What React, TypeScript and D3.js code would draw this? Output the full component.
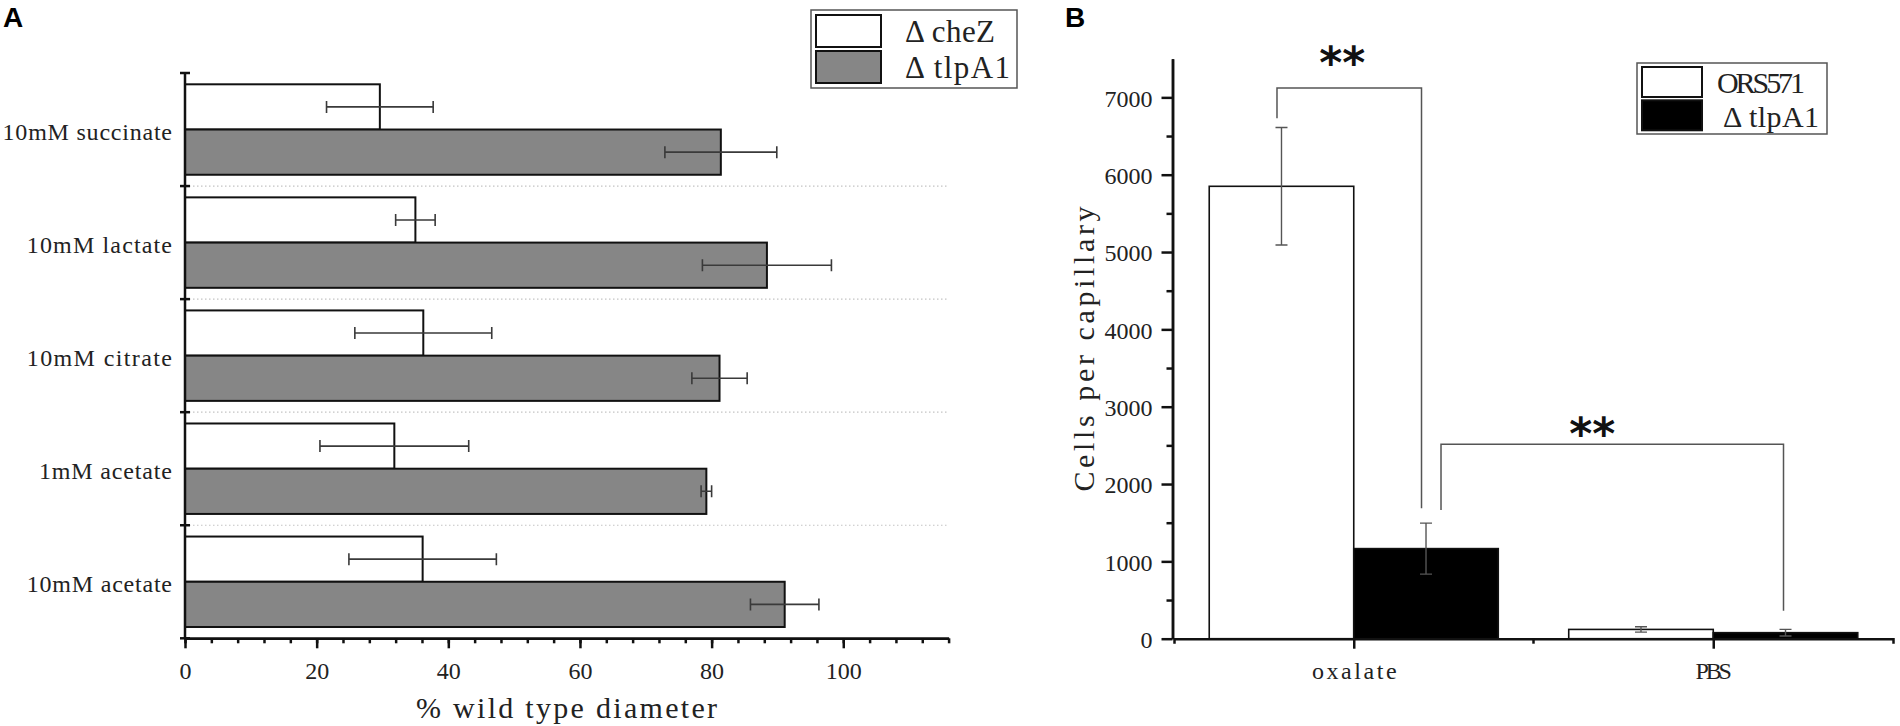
import * as d3 from 'd3';
import { useEffect, useRef } from 'react';

// ---- panel A: swarm diameter (% wild type) ----
const categoriesA = ['10mM succinate', '10mM lactate', '10mM citrate', '1mM acetate', '10mM acetate'];
const seriesA = ['Δ cheZ', 'Δ tlpA1'];
const cheZMean = [29.6, 35.0, 36.2, 31.8, 36.1];
const cheZErr = [8.1, 3.0, 10.4, 11.3, 11.2];
const tlpA1Mean = [81.4, 88.4, 81.2, 79.2, 91.1];
const tlpA1Err = [8.5, 9.8, 4.2, 0.8, 5.2];
const xTicksA = [0, 20, 40, 60, 80, 100];

// ---- panel B: capillary assay ----
const groupsB = ['oxalate', 'PBS'];
const seriesB = ['ORS571', 'Δ tlpA1'];
const ors571Mean = [5850, 120];
const ors571Err = [760, 35];
const tlpA1BMean = [1165, 78];
const tlpA1BErr = [330, 43];
const yTicksB = [0, 1000, 2000, 3000, 4000, 5000, 6000, 7000];

// significance brackets: [group, series] of each leg, leg bottoms, bracket top, star height
const bracketFrom = [['oxalate', 'ORS571'], ['oxalate', 'Δ tlpA1']];
const bracketTo = [['oxalate', 'Δ tlpA1'], ['PBS', 'Δ tlpA1']];
const bracketLegs = [[6730, 1686], [1664, 362]];
const bracketTop = [7120, 2513];
const starLevel = [7580, 2780];
const starLabels = ['**', '**'];

const serif = '"Liberation Serif", "Times New Roman", serif';

const App = () => {
  const ref = useRef<SVGSVGElement | null>(null);

  useEffect(() => {
    const width = 1900;
    const height = 726;
    const svg = d3.select(ref.current).attr('width', width).attr('height', height);
    svg.selectAll('*').remove();
    svg.append('rect').attr('width', width).attr('height', height).attr('fill', '#fff');

    // panel letters
    svg.append('text').attr('x', 3).attr('y', 27).text('A')
      .attr('font-family', '"Liberation Sans", Arial, sans-serif').attr('font-weight', 'bold').attr('font-size', 28);
    svg.append('text').attr('x', 1065).attr('y', 27).text('B')
      .attr('font-family', '"Liberation Sans", Arial, sans-serif').attr('font-weight', 'bold').attr('font-size', 28);

    // =================== panel A ===================
    const xA = d3.scaleLinear().domain([0, 116]).range([185, 948.6]);
    const yA = d3.scaleBand<string>().domain(categoriesA).range([73, 638.3]);
    const sub = d3.scaleBand<string>().domain(seriesA).range([0, yA.bandwidth()]).paddingOuter(0.25);
    const gA = svg.append('g');

    // dotted separators between categories
    gA.selectAll('line.sep').data(categoriesA.slice(1)).join('line')
      .attr('x1', xA(0)).attr('x2', xA(116))
      .attr('y1', (d) => yA(d)!).attr('y2', (d) => yA(d)!)
      .attr('stroke', '#c4c4c4').attr('stroke-width', 1.2).attr('stroke-dasharray', '1.5,2.5');

    const rowsA = categoriesA.flatMap((c, i) => [
      { cat: c, s: seriesA[0], v: cheZMean[i], e: cheZErr[i] },
      { cat: c, s: seriesA[1], v: tlpA1Mean[i], e: tlpA1Err[i] },
    ]);
    const cy = (d: { cat: string; s: string }) => yA(d.cat)! + sub(d.s)! + sub.bandwidth() / 2;

    gA.selectAll('rect.bar').data(rowsA).join('rect')
      .attr('x', xA(0)).attr('y', (d) => yA(d.cat)! + sub(d.s)!)
      .attr('width', (d) => xA(d.v) - xA(0)).attr('height', sub.bandwidth())
      .attr('fill', (d) => (d.s === seriesA[0] ? '#fff' : '#868686'))
      .attr('stroke', '#111').attr('stroke-width', 2);

    // error bars
    gA.selectAll('path.err').data(rowsA).join('path')
      .attr('d', (d) => {
        const y = cy(d);
        const a = xA(d.v - d.e);
        const b = xA(d.v + d.e);
        return `M${a},${y}H${b}M${a},${y - 6}V${y + 6}M${b},${y - 6}V${y + 6}`;
      })
      .attr('fill', 'none').attr('stroke', '#3a3a3a').attr('stroke-width', 1.6);

    // y axis with crossing ticks at category boundaries
    const bounds = [...categoriesA.map((c) => yA(c)!), yA.range()[1]];
    gA.append('line').attr('x1', xA(0)).attr('x2', xA(0)).attr('y1', bounds[0]).attr('y2', bounds[bounds.length - 1])
      .attr('stroke', '#111').attr('stroke-width', 2.5);
    gA.selectAll('line.yt').data(bounds).join('line')
      .attr('x1', xA(0) - 5).attr('x2', xA(0) + 5).attr('y1', (d) => d).attr('y2', (d) => d)
      .attr('stroke', '#111').attr('stroke-width', 2.5);
    gA.selectAll('text.cat').data(categoriesA).join('text')
      .attr('x', 172).attr('y', (d) => yA(d)! + yA.bandwidth() / 2 + 10)
      .attr('text-anchor', 'end').attr('font-family', serif).attr('font-size', 24).attr('fill', '#222')
      .attr('textLength', (d) => d.length * 12.1).attr('lengthAdjust', 'spacing')
      .text((d) => d);

    // x axis
    const axA = gA.append('g').attr('transform', `translate(0,${yA.range()[1]})`)
      .call(d3.axisBottom(xA).tickValues(xTicksA).tickSize(10).tickSizeOuter(0).tickPadding(13.5));
    axA.append('g').call(d3.axisBottom(xA).tickValues(d3.range(0, 117, 4)).tickSize(5).tickSizeOuter(0).tickFormat(() => ''));
    axA.selectAll('path.domain').attr('stroke', '#111').attr('stroke-width', 2.5);
    axA.selectAll('line').attr('stroke', '#111').attr('stroke-width', 2.5);
    axA.selectAll('text').attr('font-family', serif).attr('font-size', 24).attr('fill', '#222');
    gA.append('text').attr('x', 566.5).attr('y', 718).attr('text-anchor', 'middle')
      .attr('font-family', serif).attr('font-size', 30).attr('fill', '#222')
      .attr('textLength', 301).attr('lengthAdjust', 'spacing').text('% wild type diameter');

    // legend A
    const legA = gA.append('g');
    legA.append('rect').attr('x', 811).attr('y', 10).attr('width', 206).attr('height', 78)
      .attr('fill', '#fff').attr('stroke', '#555').attr('stroke-width', 1.5);
    legA.selectAll('rect.sw').data(seriesA).join('rect')
      .attr('x', 816).attr('y', (_, i) => 15 + i * 36).attr('width', 65).attr('height', 32)
      .attr('fill', (_, i) => (i === 0 ? '#fff' : '#868686')).attr('stroke', '#111').attr('stroke-width', 2);
    legA.selectAll('text.lg').data(seriesA).join('text')
      .attr('x', 905).attr('y', (_, i) => 42 + i * 35.5)
      .attr('font-family', serif).attr('font-size', 31).attr('fill', '#222')
      .attr('textLength', (_, i) => (i === 0 ? 90 : 105)).attr('lengthAdjust', 'spacing')
      .text((d) => d);

    // =================== panel B ===================
    const xB = d3.scalePoint<string>().domain(groupsB).range([1174, 1893]).padding(0.5);
    const barW = xB.step() * 0.402;
    const subB = d3.scaleBand<string>().domain(seriesB).range([-barW, barW]);
    const yB = d3.scaleLinear().domain([0, 7500]).range([638.7, 58.7]);
    const gB = svg.append('g');

    const rowsB = groupsB.flatMap((g, i) => [
      { g, s: seriesB[0], v: ors571Mean[i], e: ors571Err[i] },
      { g, s: seriesB[1], v: tlpA1BMean[i], e: tlpA1BErr[i] },
    ]);
    const cx = (g: string, s: string) => xB(g)! + subB(s)! + subB.bandwidth() / 2;

    gB.selectAll('rect.bar').data(rowsB).join('rect')
      .attr('x', (d) => xB(d.g)! + subB(d.s)!).attr('y', (d) => yB(d.v))
      .attr('width', subB.bandwidth()).attr('height', (d) => yB(0) - yB(d.v))
      .attr('fill', (d) => (d.s === seriesB[0] ? '#fff' : '#000'))
      .attr('stroke', '#111').attr('stroke-width', 1.6);

    gB.selectAll('path.err').data(rowsB).join('path')
      .attr('d', (d) => {
        const x = cx(d.g, d.s);
        const a = yB(d.v - d.e);
        const b = yB(d.v + d.e);
        return `M${x},${a}V${b}M${x - 6},${a}H${x + 6}M${x - 6},${b}H${x + 6}`;
      })
      .attr('fill', 'none').attr('stroke', '#555').attr('stroke-width', 1.4);

    // y axis
    const ayB = gB.append('g').attr('transform', `translate(${1172.5},0)`)
      .call(d3.axisLeft(yB).tickValues(yTicksB).tickSize(11).tickSizeOuter(0).tickPadding(9).tickFormat(d3.format('d')));
    ayB.append('g').call(d3.axisLeft(yB).tickValues(d3.range(500, 7500, 1000)).tickSize(6).tickSizeOuter(0).tickFormat(() => ''));
    ayB.selectAll('path.domain').attr('stroke', '#111').attr('stroke-width', 2.5);
    ayB.selectAll('line').attr('stroke', '#111').attr('stroke-width', 2.5);
    ayB.selectAll('text').attr('font-family', serif).attr('font-size', 24).attr('fill', '#222').attr('dy', '0.36em');
    gB.append('text').attr('transform', 'translate(1094,349) rotate(-90)').attr('text-anchor', 'middle')
      .attr('font-family', serif).attr('font-size', 30).attr('fill', '#222')
      .attr('textLength', 285).attr('lengthAdjust', 'spacing').text('Cells per capillary');

    // x axis
    const axB = gB.append('g').attr('transform', `translate(0,${yB(0)})`)
      .call(d3.axisBottom(xB).tickSize(10).tickSizeOuter(5).tickPadding(13.5));
    axB.append('line').attr('x1', (xB.range()[0] + xB.range()[1]) / 2).attr('x2', (xB.range()[0] + xB.range()[1]) / 2)
      .attr('y1', 0).attr('y2', 5);
    axB.selectAll('path.domain').attr('stroke', '#111').attr('stroke-width', 2.5);
    axB.selectAll('line').attr('stroke', '#111').attr('stroke-width', 2.5);
    axB.selectAll('text').attr('font-family', serif).attr('font-size', 24).attr('fill', '#222')
      .attr('textLength', (d) => (d as string).length * 12.1).attr('lengthAdjust', 'spacing');

    // significance brackets
    const legOffset = [[-4.5, -4.5], [15, -2]];
    const starOffset = [-7, -20];
    bracketTop.forEach((top, i) => {
      const x1 = cx(bracketFrom[i][0], bracketFrom[i][1]) + legOffset[i][0];
      const x2 = cx(bracketTo[i][0], bracketTo[i][1]) + legOffset[i][1];
      gB.append('path')
        .attr('d', `M${x1},${yB(bracketLegs[i][0])}V${yB(top)}H${x2}V${yB(bracketLegs[i][1])}`)
        .attr('fill', 'none').attr('stroke', '#555').attr('stroke-width', 1.5);
      gB.append('text').attr('x', (x1 + x2) / 2 + starOffset[i]).attr('y', yB(starLevel[i]) + 25)
        .attr('text-anchor', 'middle').attr('font-family', '"DejaVu Sans", sans-serif').attr('font-weight', 'bold')
        .attr('font-size', 44).attr('fill', '#111').text(starLabels[i]);
    });

    // legend B
    const legB = gB.append('g');
    legB.append('rect').attr('x', 1637).attr('y', 63).attr('width', 190).attr('height', 71)
      .attr('fill', '#fff').attr('stroke', '#555').attr('stroke-width', 1.5);
    legB.selectAll('rect.sw').data(seriesB).join('rect')
      .attr('x', 1642).attr('y', (_, i) => 67 + i * 33.3).attr('width', 60).attr('height', 30)
      .attr('fill', (_, i) => (i === 0 ? '#fff' : '#000')).attr('stroke', '#111').attr('stroke-width', 2);
    legB.selectAll('text.lg').data(seriesB).join('text')
      .attr('x', (_, i) => (i === 0 ? 1717 : 1723)).attr('y', (_, i) => 92.7 + i * 34)
      .attr('font-family', serif).attr('font-size', 30).attr('fill', '#222')
      .attr('textLength', (_, i) => (i === 0 ? 88 : 96)).attr('lengthAdjust', 'spacing')
      .text((d) => d);
  }, []);

  return <svg ref={ref} style={{ position: 'absolute', left: 0, top: 0 }}></svg>;
};

export default App;
